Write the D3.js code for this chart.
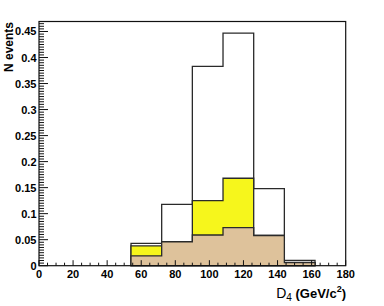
<!DOCTYPE html>
<html>
<head>
<meta charset="utf-8">
<script src="https://cdn.jsdelivr.net/npm/d3@7"></script>
<style>
  body { margin: 0; background: #fff; }
  text { font-family: "Liberation Sans", Arial, sans-serif; }
</style>
</head>
<body>
<svg id="chart" width="384" height="306"></svg>
<script>
// histogram contents, bins of 18 GeV/c^2 starting at 54
const binLow = [54, 72, 90, 108, 126, 144];
const binWidth = 18;
const total = [0.043, 0.118, 0.383, 0.447, 0.148, 0.010];
const yellowPart = [0.038, 0.046, 0.125, 0.168, 0.058, 0.006];
const tanPart = [0.019, 0.046, 0.059, 0.073, 0.058, 0.006];
const xTicks = [0, 20, 40, 60, 80, 100, 120, 140, 160, 180];
const yTicks = [0, 0.05, 0.1, 0.15, 0.2, 0.25, 0.3, 0.35, 0.4, 0.45];

const svg = d3.select("#chart");
const padL = 39, padR = 345.7, padT = 21.5, padB = 265.7;

const x = d3.scaleLinear().domain([0, 180]).range([padL, padR]);
const y = d3.scaleLinear().domain([0, 0.4692]).range([padB, padT]);

function histPath(vals) {
  var p = d3.path();
  p.moveTo(x(binLow[0]), y(0));
  vals.forEach((v, i) => {
    p.lineTo(x(binLow[i]), y(v));
    p.lineTo(x(binLow[i] + binWidth), y(v));
  });
  p.lineTo(x(binLow[binLow.length - 1] + binWidth), y(0));
  p.closePath();
  return p.toString();
}

svg.append("g").attr("id", "hists")
  .selectAll("path")
  .data([[total, "#ffffff"], [yellowPart, "#f6f61c"], [tanPart, "#dec29b"]])
  .join("path")
    .attr("d", d => histPath(d[0]))
    .attr("fill", d => d[1])
    .attr("stroke", "#2a2a2a")
    .attr("stroke-width", 1.3);

// frame
svg.append("rect")
  .attr("x", padL).attr("y", padT)
  .attr("width", padR - padL).attr("height", padB - padT)
  .attr("fill", "none")
  .attr("stroke", "#111")
  .attr("stroke-width", 1.2);

const axes = svg.append("g").attr("stroke", "#111").attr("stroke-width", 1);

// y ticks, pointing inward
d3.range(0, 0.4651, 0.005).forEach((v, i) => {
  var major = i % 10 === 0;
  axes.append("line")
    .attr("x1", padL).attr("x2", padL + (major ? 9 : 5))
    .attr("y1", y(v)).attr("y2", y(v));
});
// x ticks
d3.range(0, 180.1, 5).forEach((v, i) => {
  var major = i % 4 === 0;
  axes.append("line")
    .attr("x1", x(v)).attr("x2", x(v))
    .attr("y1", padB).attr("y2", padB - (major ? 5.5 : 3));
});

svg.append("g").selectAll("text")
  .data(yTicks)
  .join("text")
    .attr("x", 36.5)
    .attr("y", d => y(d) + 4)
    .attr("text-anchor", "end")
    .attr("font-size", 11)
    .attr("font-weight", "bold")
    .text(d => d === 0 ? "0" : d3.format(".2~f")(d));

svg.append("g").selectAll("text")
  .data(xTicks)
  .join("text")
    .attr("x", d => x(d))
    .attr("y", 278)
    .attr("text-anchor", "middle")
    .attr("font-size", 11)
    .attr("font-weight", "bold")
    .text(d => d);

svg.append("text")
  .attr("transform", "translate(12.5,22) rotate(-90)")
  .attr("text-anchor", "end")
  .attr("font-size", 12)
  .attr("font-weight", "bold")
  .text("N events");

const xl = svg.append("text")
  .attr("x", 346).attr("y", 298)
  .attr("text-anchor", "end")
  .attr("font-size", 14);
xl.append("tspan").text("D");
xl.append("tspan").attr("font-size", 10).attr("dy", 3).text("4");
xl.append("tspan").attr("dy", -3).attr("font-weight", "bold").attr("font-size", 13).text(" (GeV/c");
xl.append("tspan").attr("font-size", 9).attr("font-weight", "bold").attr("dy", -6).text("2");
xl.append("tspan").attr("dy", 6).attr("font-weight", "bold").attr("font-size", 13).text(")");
</script>
</body>
</html>
